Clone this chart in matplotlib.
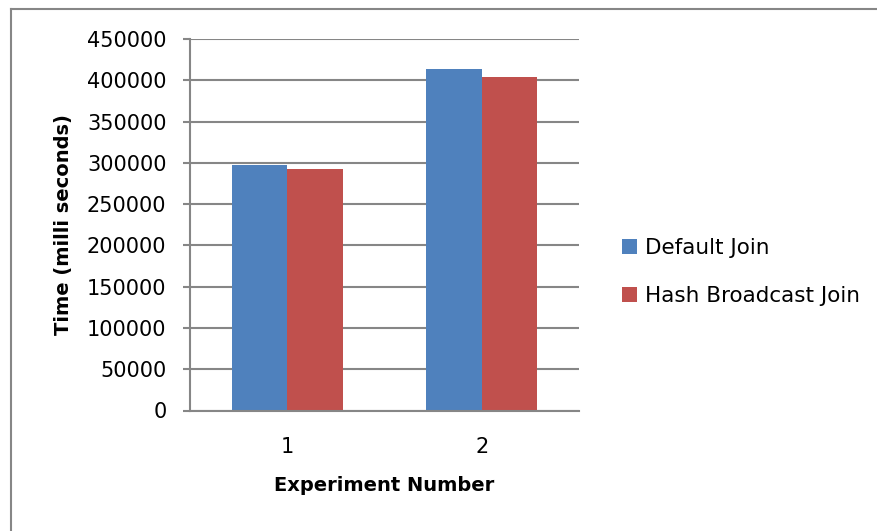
import numpy as np
import matplotlib
matplotlib.use("Agg")
import matplotlib.pyplot as plt
from matplotlib.lines import Line2D

experiments = ["1", "2"]
default_join = [297500, 414000]
hash_broadcast_join = [292000, 404500]
series_names = ["Default Join", "Hash Broadcast Join"]
y_ticks = [0, 50000, 100000, 150000, 200000, 250000, 300000, 350000, 400000, 450000]

plt.rcParams["font.family"] = ["DejaVu Sans"]

W, H = 877, 531
fig = plt.figure(figsize=(W / 100, H / 100), dpi=100)

# plot area in pixel coords of the figure
left, right, top, bottom = 190, 579, 39, 410.5
ax = fig.add_axes([left / W, 1 - bottom / H, (right - left) / W, (bottom - top) / H])

x = np.arange(len(experiments))
bw = 0.2857
ax.bar(x - bw / 2, default_join, bw, color="#4F81BD", label=series_names[0], zorder=3)
ax.bar(x + bw / 2, hash_broadcast_join, bw, color="#C0504D", label=series_names[1], zorder=3)

ax.set_xlim(-0.5, 1.5)
ax.set_ylim(0, 450000)
ax.set_yticks(y_ticks)
ax.set_yticklabels([str(v) for v in y_ticks])
ax.set_xticks(x)
ax.set_xticklabels(experiments)

grid_col = "#868686"
ax.yaxis.grid(True, color=grid_col, linewidth=1.5, zorder=0)
for s in ["top", "right"]:
    ax.spines[s].set_visible(False)
for s in ["left", "bottom"]:
    ax.spines[s].set_color(grid_col)
    ax.spines[s].set_linewidth(1.5)
    ax.spines[s].set_zorder(4)

ax.tick_params(axis="y", length=5, width=1.5, color=grid_col, labelsize=15, pad=12)
ax.tick_params(axis="x", length=0, labelsize=15, pad=19)

ax.set_xlabel("Experiment Number", fontsize=14, fontweight="bold", labelpad=14)
ax.set_ylabel("Time (milli seconds)", fontsize=14, fontweight="bold", labelpad=10)

leg = fig.legend(loc="center left", bbox_to_anchor=(603 / W, 1 - 272 / H),
                 frameon=False, fontsize=15.5, handlelength=0.7, handleheight=0.7,
                 handletextpad=0.35, labelspacing=1.3)

# outer chart border
fig.add_artist(Line2D([10.5 / W, 1], [1 - 8.5 / H, 1 - 8.5 / H], color=grid_col, linewidth=1.5))
fig.add_artist(Line2D([10.5 / W, 10.5 / W], [0, 1 - 8.5 / H], color=grid_col, linewidth=1.5))

fig.savefig("out.png", dpi=100)
